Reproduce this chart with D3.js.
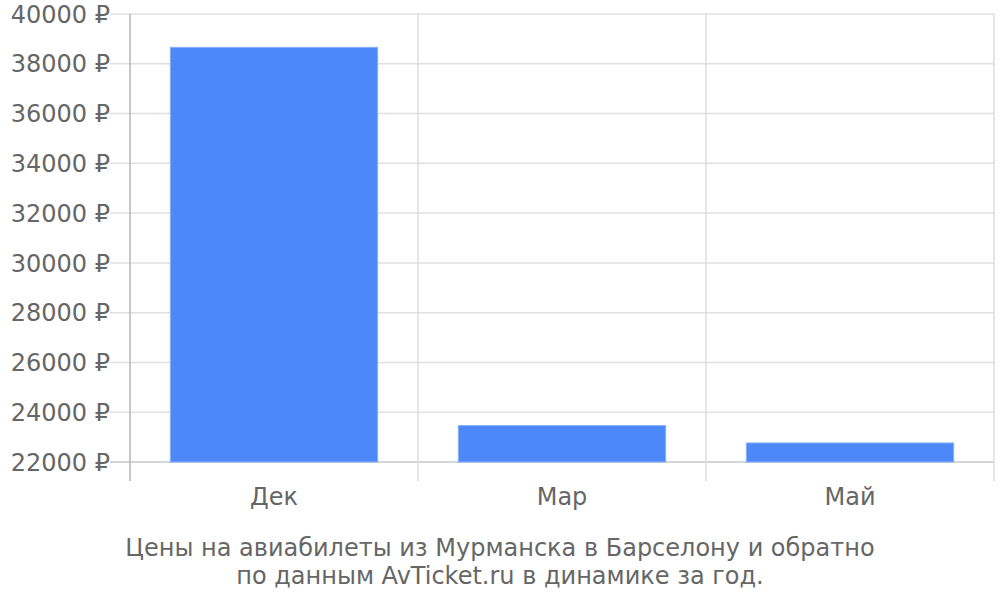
<!DOCTYPE html>
<html>
<head>
<meta charset="utf-8">
<script src="https://cdn.jsdelivr.net/npm/d3@7"></script>
<style>
  body { margin: 0; background: #fff; }
  svg { font-family: "DejaVu Sans", sans-serif; }
</style>
</head>
<body>
<div class="barChart"></div>
<script>
const months = ['Дек', 'Мар', 'Май'];
const prices = [38660, 23465, 22765];
const yTicks = [22000, 24000, 26000, 28000, 30000, 32000, 34000, 36000, 38000, 40000];
const titleLines = ['Цены на авиабилеты из Мурманска в Барселону и обратно',
                    'по данным AvTicket.ru в динамике за год.'];

const width = 1000, height = 600;
const margin = { top: 14, right: 6, bottom: 138, left: 130 };

const svg = d3.select('.barChart')
    .append('svg')
    .attr('width', width)
    .attr('height', height);

const x = d3.scaleBand()
    .domain(months)
    .range([margin.left, width - margin.right])
    .paddingInner(0.28)
    .paddingOuter(0.14);

// separate band positions for the gridlines (no padding)
const xCells = d3.scaleBand()
    .domain(months)
    .range([margin.left, width - margin.right]);

const y = d3.scaleLinear()
    .domain([22000, 40000])
    .range([height - margin.bottom, margin.top]);

const bottomY = y(22000);

// horizontal gridlines + ticks
svg.append('g')
    .selectAll('line')
    .data(yTicks)
    .enter()
    .append('line')
    .attr('x1', margin.left - 20)
    .attr('x2', width - margin.right)
    .attr('y1', d => y(d))
    .attr('y2', d => y(d))
    .attr('stroke', d => d === 22000 ? '#c8c8c8' : '#e0e0e0')
    .attr('stroke-width', 1.5);

// vertical gridlines
svg.append('g')
    .selectAll('line')
    .data(months)
    .enter()
    .append('line')
    .attr('x1', d => xCells(d) + xCells.bandwidth())
    .attr('x2', d => xCells(d) + xCells.bandwidth())
    .attr('y1', margin.top)
    .attr('y2', bottomY + 19)
    .attr('stroke', '#dcdcdc')
    .attr('stroke-width', 1.5);

// y axis line
svg.append('line')
    .attr('x1', margin.left)
    .attr('x2', margin.left)
    .attr('y1', margin.top)
    .attr('y2', bottomY + 19)
    .attr('stroke', '#b4b4b4')
    .attr('stroke-width', 1.5);

// tick labels
svg.append('g')
    .selectAll('text')
    .data(yTicks)
    .enter()
    .append('text')
    .text(d => d + ' ₽')
    .attr('x', margin.left - 20)
    .attr('y', d => y(d))
    .attr('dy', '0.36em')
    .attr('text-anchor', 'end')
    .attr('font-size', 24)
    .attr('fill', '#666');

// bars
svg.append('g')
    .selectAll('rect')
    .data(prices)
    .enter()
    .append('rect')
    .attr('x', (d, i) => x(months[i]))
    .attr('y', d => y(d))
    .attr('width', x.bandwidth())
    .attr('height', d => bottomY - y(d))
    .attr('fill', '#4d88f9')
    .attr('stroke', '#8ab0fb')
    .attr('stroke-width', 1);

// category labels
svg.append('g')
    .selectAll('text')
    .data(months)
    .enter()
    .append('text')
    .text(d => d)
    .attr('x', d => x(d) + x.bandwidth() / 2)
    .attr('y', bottomY + 43)
    .attr('text-anchor', 'middle')
    .attr('font-size', 24)
    .attr('fill', '#666');

// caption
svg.append('g')
    .selectAll('text')
    .data(titleLines)
    .enter()
    .append('text')
    .text(d => d)
    .attr('x', 500)
    .attr('y', (d, i) => 556 + i * 28)
    .attr('text-anchor', 'middle')
    .attr('font-size', 24)
    .attr('fill', '#666');
</script>
</body>
</html>
